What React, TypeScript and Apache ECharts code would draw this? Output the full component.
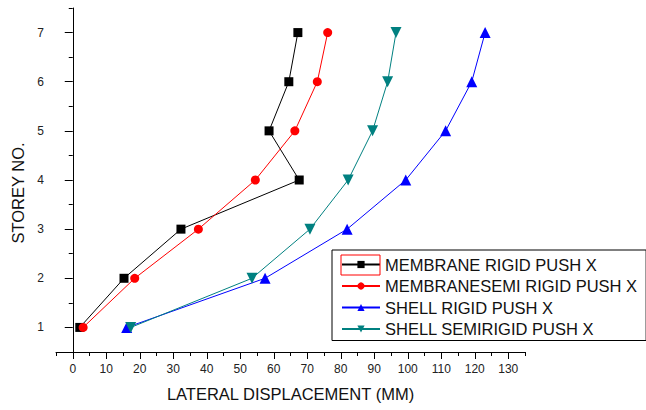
import React, { useEffect, useRef } from "react";
import * as echarts from "echarts";

const storeys = [1, 2, 3, 4, 5, 6, 7];
const membraneRigid = [2.1, 15.3, 32.3, 67.6, 58.6, 64.5, 67.2];
const membraneSemiRigid = [3.1, 18.5, 37.5, 54.5, 66.3, 73.0, 76.1];
const shellRigid = [16.1, 57.4, 81.9, 99.4, 111.3, 119.1, 123.1];
const shellSemiRigid = [17.3, 53.5, 70.8, 82.2, 89.5, 94.0, 96.5];

const seriesNames = [
  "MEMBRANE RIGID PUSH X",
  "MEMBRANESEMI RIGID PUSH X",
  "SHELL RIGID PUSH X",
  "SHELL SEMIRIGID PUSH X",
];

const xMajorTicks = [0, 10, 20, 30, 40, 50, 60, 70, 80, 90, 100, 110, 120, 130];
const xMinorTicks = [-5, 5, 15, 25, 35, 45, 55, 65, 75, 85, 95, 105, 115, 125, 135];
const yMajorTicks = [1, 2, 3, 4, 5, 6, 7];
const yMinorTicks = [0.5, 1.5, 2.5, 3.5, 4.5, 5.5, 6.5, 7.5];

const FONT = "'Liberation Sans', Arial, Helvetica, sans-serif";

function pairs(xs: number[]) {
  return xs.map((x, i) => [x, storeys[i]]);
}

export default function App() {
  const ref = useRef<HTMLDivElement>(null);
  useEffect(() => {
    if (!ref.current) return;
    const chart = echarts.init(ref.current, undefined, { renderer: "svg" });
    const axisLine = { show: true, lineStyle: { color: "#000", width: 1 } };
    const common = {
      type: "value" as const,
      splitLine: { show: false },
    };
    chart.setOption({
      animation: false,
      backgroundColor: "#fff",
      textStyle: { fontFamily: FONT },
      grid: { left: 56, right: 121, top: 8, bottom: 58, containLabel: false },
      xAxis: [
        {
          ...common,
          position: "bottom",
          min: -5,
          max: 135,
          axisLine,
          axisTick: { show: true, customValues: xMajorTicks, length: 7, lineStyle: { color: "#000" } },
          axisLabel: { customValues: xMajorTicks, fontSize: 12, color: "#222", margin: 11, fontFamily: FONT },
          name: "LATERAL DISPLACEMENT (MM)",
          nameLocation: "middle",
          nameGap: 33,
          nameTextStyle: { fontSize: 16.5, color: "#111", fontFamily: FONT },
        },
        {
          ...common,
          position: "bottom",
          min: -5,
          max: 135,
          axisLine: { show: false },
          axisTick: { show: true, customValues: xMinorTicks, length: 4, lineStyle: { color: "#000" } },
          axisLabel: { show: false },
        },
      ],
      yAxis: [
        {
          ...common,
          position: "left",
          min: 0.5,
          max: 7.5,
          axisLine,
          axisTick: { show: true, customValues: yMajorTicks, length: 8, lineStyle: { color: "#000" } },
          axisLabel: { customValues: yMajorTicks, fontSize: 12, color: "#222", margin: 12, fontFamily: FONT },
        },
        {
          ...common,
          position: "left",
          min: 0.5,
          max: 7.5,
          axisLine: { show: false },
          axisTick: { show: true, customValues: yMinorTicks, length: 4, lineStyle: { color: "#000" } },
          axisLabel: { show: false },
        },
      ],
      legend: {
        orient: "vertical",
        left: 332,
        top: 250,
        padding: [6, 9, 3, 9],
        itemGap: 4.5,
        itemWidth: 38,
        itemHeight: 9,
        borderColor: "#000",
        borderWidth: 1,
        textStyle: { fontSize: 16.5, color: "#111", fontFamily: FONT },
        data: seriesNames,
      },
      series: [
        {
          name: seriesNames[0],
          type: "line",
          data: pairs(membraneRigid),
          symbol: "rect",
          symbolSize: 9,
          color: "#000",
          lineStyle: { width: 1, color: "#000" },
          itemStyle: { color: "#000" },
        },
        {
          name: seriesNames[1],
          type: "line",
          data: pairs(membraneSemiRigid),
          symbol: "circle",
          symbolSize: 9,
          color: "#ff0000",
          lineStyle: { width: 1, color: "#ff0000" },
          itemStyle: { color: "#ff0000" },
        },
        {
          name: seriesNames[2],
          type: "line",
          data: pairs(shellRigid),
          symbol: "triangle",
          symbolSize: 11,
          color: "#0000ff",
          lineStyle: { width: 1, color: "#0000ff" },
          itemStyle: { color: "#0000ff" },
        },
        {
          name: seriesNames[3],
          type: "line",
          data: pairs(shellSemiRigid),
          symbol: "triangle",
          symbolRotate: 180,
          symbolSize: 11,
          color: "#008080",
          lineStyle: { width: 1, color: "#008080" },
          itemStyle: { color: "#008080" },
        },
      ],
      graphic: [
        {
          type: "text",
          x: 18,
          y: 193,
          rotation: Math.PI / 2,
          style: {
            text: "STOREY NO.",
            fontSize: 16.5,
            fontFamily: FONT,
            fill: "#111",
            align: "center",
            verticalAlign: "middle",
          },
        },
        {
          type: "rect",
          z: 100,
          shape: { x: 341, y: 255, width: 39, height: 20 },
          style: { fill: "none", stroke: "#ff0000", lineWidth: 1 },
        },
      ],
    });
    return () => chart.dispose();
  }, []);
  return (
    <div
      ref={ref}
      style={{ position: "fixed", left: 0, top: 0, width: 646, height: 410, background: "#fff" }}
    />
  );
}
